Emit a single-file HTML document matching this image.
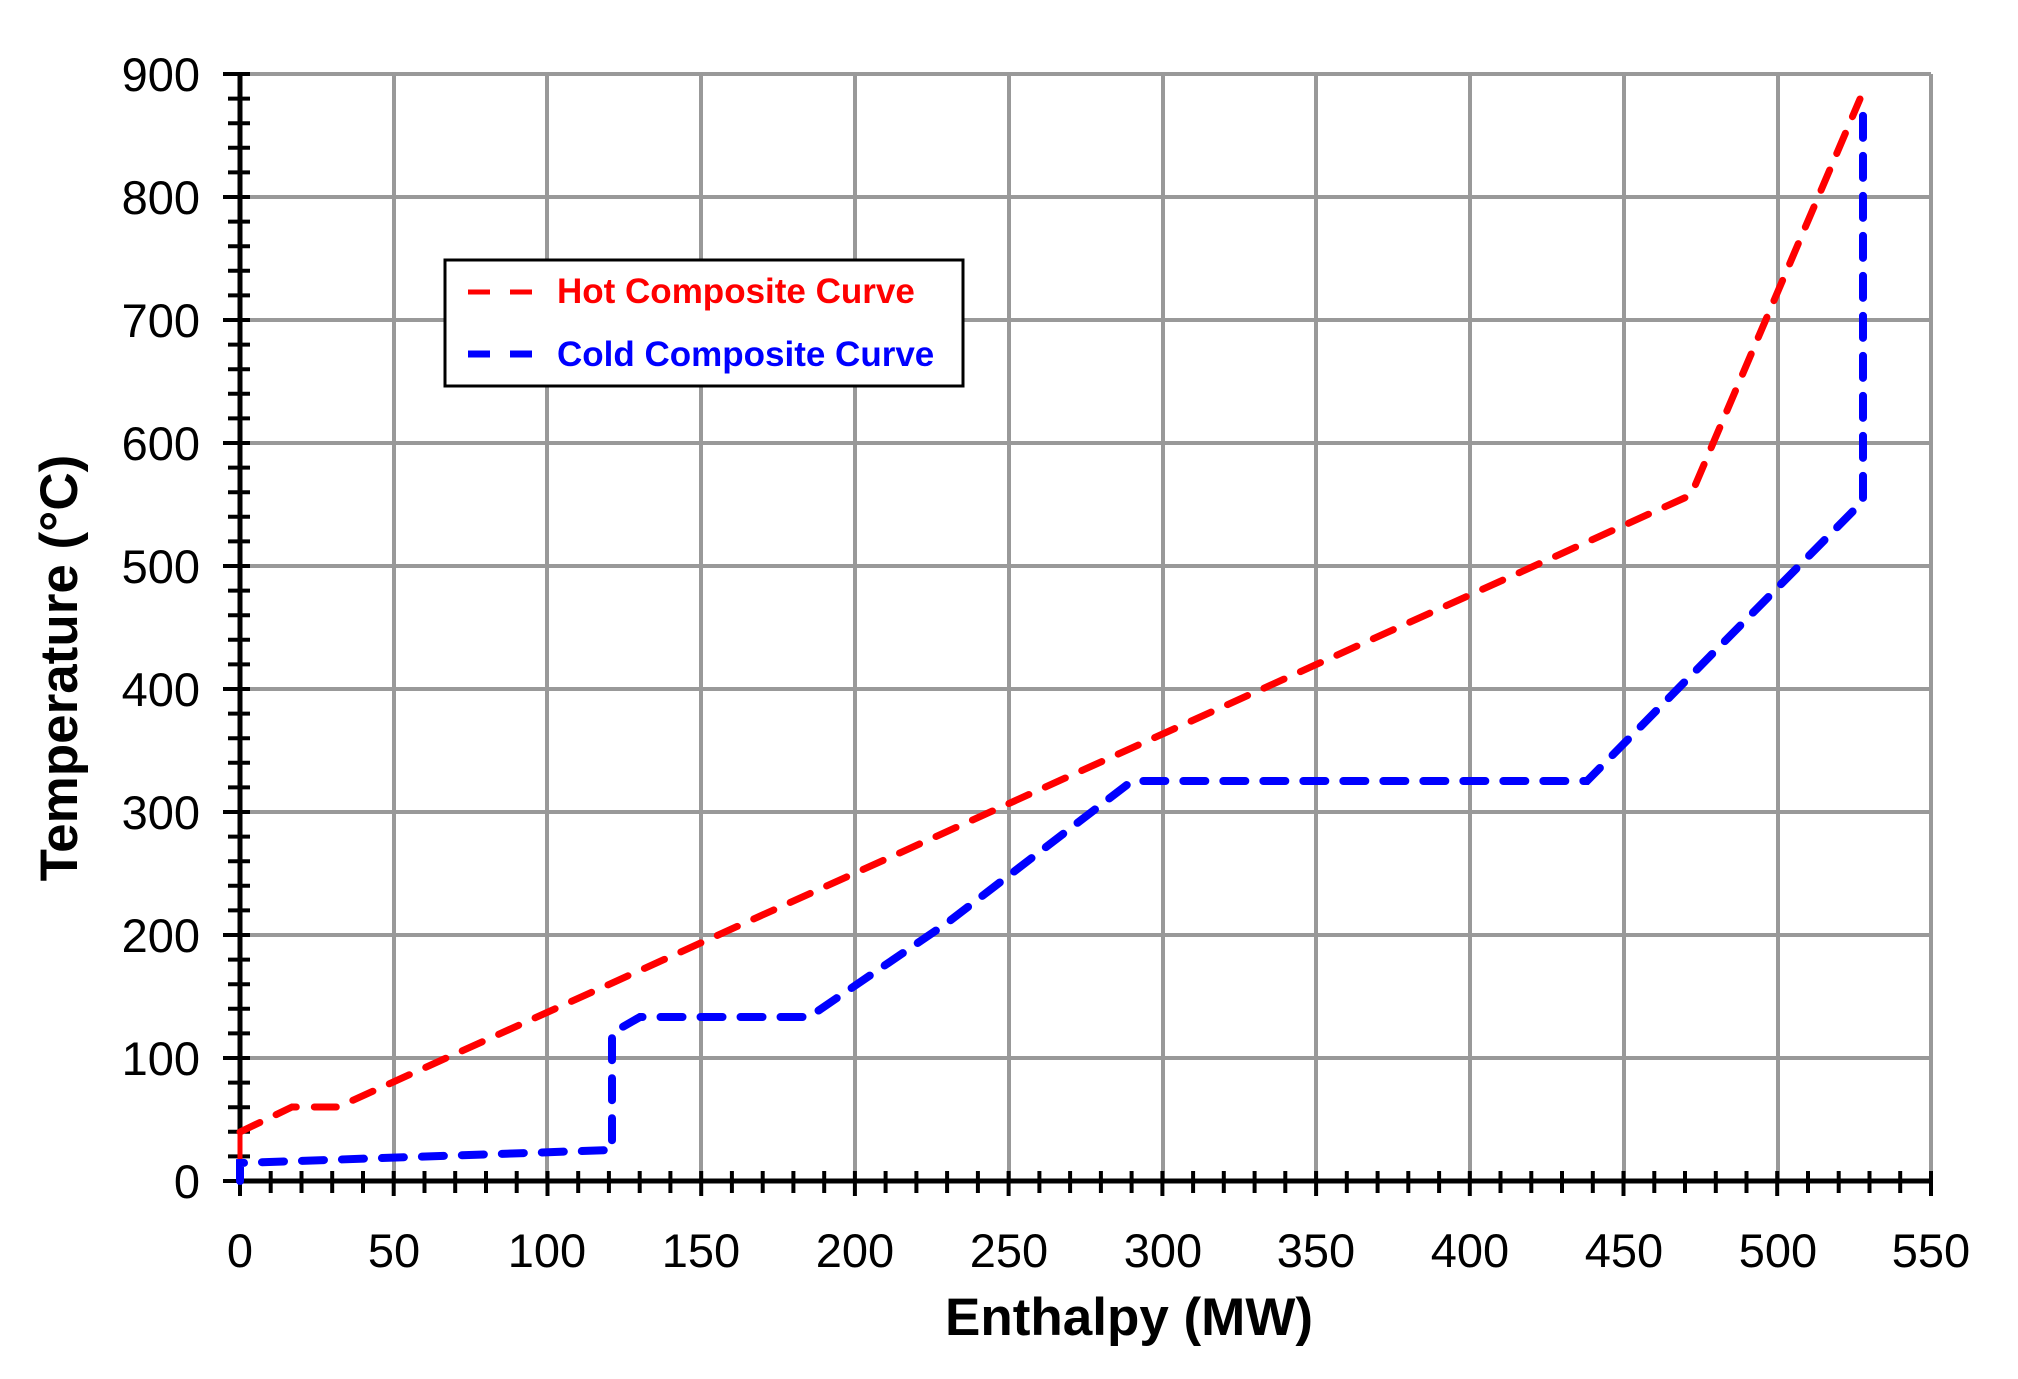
<!DOCTYPE html>
<html><head><meta charset="utf-8"><style>body{margin:0;background:#fff}svg{display:block}</style></head><body>
<svg width="2018" height="1379" xmlns="http://www.w3.org/2000/svg" font-family="Liberation Sans, Arial, sans-serif">
<g stroke="#999" stroke-width="4">
<line x1="240" y1="74" x2="1931" y2="74"/><line x1="240" y1="197" x2="1931" y2="197"/><line x1="240" y1="320" x2="1931" y2="320"/><line x1="240" y1="443" x2="1931" y2="443"/><line x1="240" y1="566" x2="1931" y2="566"/><line x1="240" y1="689" x2="1931" y2="689"/><line x1="240" y1="812" x2="1931" y2="812"/><line x1="240" y1="935" x2="1931" y2="935"/><line x1="240" y1="1058" x2="1931" y2="1058"/>
<line x1="394" y1="74" x2="394" y2="1181"/><line x1="547" y1="74" x2="547" y2="1181"/><line x1="701" y1="74" x2="701" y2="1181"/><line x1="855" y1="74" x2="855" y2="1181"/><line x1="1009" y1="74" x2="1009" y2="1181"/><line x1="1163" y1="74" x2="1163" y2="1181"/><line x1="1316" y1="74" x2="1316" y2="1181"/><line x1="1470" y1="74" x2="1470" y2="1181"/><line x1="1624" y1="74" x2="1624" y2="1181"/><line x1="1778" y1="74" x2="1778" y2="1181"/><line x1="1931" y1="74" x2="1931" y2="1181"/>
</g>
<g stroke="#000" stroke-width="4">
<line x1="223" y1="74" x2="250" y2="74"/><line x1="228" y1="98.6" x2="250" y2="98.6"/><line x1="228" y1="123.2" x2="250" y2="123.2"/><line x1="228" y1="147.8" x2="250" y2="147.8"/><line x1="228" y1="172.4" x2="250" y2="172.4"/>
<line x1="223" y1="197" x2="250" y2="197"/><line x1="228" y1="221.6" x2="250" y2="221.6"/><line x1="228" y1="246.2" x2="250" y2="246.2"/><line x1="228" y1="270.8" x2="250" y2="270.8"/><line x1="228" y1="295.4" x2="250" y2="295.4"/>
<line x1="223" y1="320" x2="250" y2="320"/><line x1="228" y1="344.6" x2="250" y2="344.6"/><line x1="228" y1="369.2" x2="250" y2="369.2"/><line x1="228" y1="393.8" x2="250" y2="393.8"/><line x1="228" y1="418.4" x2="250" y2="418.4"/>
<line x1="223" y1="443" x2="250" y2="443"/><line x1="228" y1="467.6" x2="250" y2="467.6"/><line x1="228" y1="492.2" x2="250" y2="492.2"/><line x1="228" y1="516.8" x2="250" y2="516.8"/><line x1="228" y1="541.4" x2="250" y2="541.4"/>
<line x1="223" y1="566" x2="250" y2="566"/><line x1="228" y1="590.6" x2="250" y2="590.6"/><line x1="228" y1="615.2" x2="250" y2="615.2"/><line x1="228" y1="639.8" x2="250" y2="639.8"/><line x1="228" y1="664.4" x2="250" y2="664.4"/>
<line x1="223" y1="689" x2="250" y2="689"/><line x1="228" y1="713.6" x2="250" y2="713.6"/><line x1="228" y1="738.2" x2="250" y2="738.2"/><line x1="228" y1="762.8" x2="250" y2="762.8"/><line x1="228" y1="787.4" x2="250" y2="787.4"/>
<line x1="223" y1="812" x2="250" y2="812"/><line x1="228" y1="836.6" x2="250" y2="836.6"/><line x1="228" y1="861.2" x2="250" y2="861.2"/><line x1="228" y1="885.8" x2="250" y2="885.8"/><line x1="228" y1="910.4" x2="250" y2="910.4"/>
<line x1="223" y1="935" x2="250" y2="935"/><line x1="228" y1="959.6" x2="250" y2="959.6"/><line x1="228" y1="984.2" x2="250" y2="984.2"/><line x1="228" y1="1008.8" x2="250" y2="1008.8"/><line x1="228" y1="1033.4" x2="250" y2="1033.4"/>
<line x1="223" y1="1058" x2="250" y2="1058"/><line x1="228" y1="1082.6" x2="250" y2="1082.6"/><line x1="228" y1="1107.2" x2="250" y2="1107.2"/><line x1="228" y1="1131.8" x2="250" y2="1131.8"/><line x1="228" y1="1156.4" x2="250" y2="1156.4"/>
<line x1="223" y1="1181" x2="250" y2="1181"/>
<line x1="240.0" y1="1171" x2="240.0" y2="1196"/><line x1="270.7" y1="1171" x2="270.7" y2="1193"/><line x1="301.5" y1="1171" x2="301.5" y2="1193"/><line x1="332.2" y1="1171" x2="332.2" y2="1193"/><line x1="363.0" y1="1171" x2="363.0" y2="1193"/><line x1="393.7" y1="1171" x2="393.7" y2="1196"/><line x1="424.5" y1="1171" x2="424.5" y2="1193"/><line x1="455.2" y1="1171" x2="455.2" y2="1193"/><line x1="486.0" y1="1171" x2="486.0" y2="1193"/><line x1="516.7" y1="1171" x2="516.7" y2="1193"/><line x1="547.5" y1="1171" x2="547.5" y2="1196"/><line x1="578.2" y1="1171" x2="578.2" y2="1193"/><line x1="608.9" y1="1171" x2="608.9" y2="1193"/><line x1="639.7" y1="1171" x2="639.7" y2="1193"/><line x1="670.4" y1="1171" x2="670.4" y2="1193"/><line x1="701.2" y1="1171" x2="701.2" y2="1196"/><line x1="731.9" y1="1171" x2="731.9" y2="1193"/><line x1="762.7" y1="1171" x2="762.7" y2="1193"/><line x1="793.4" y1="1171" x2="793.4" y2="1193"/><line x1="824.2" y1="1171" x2="824.2" y2="1193"/><line x1="854.9" y1="1171" x2="854.9" y2="1196"/><line x1="885.6" y1="1171" x2="885.6" y2="1193"/><line x1="916.4" y1="1171" x2="916.4" y2="1193"/><line x1="947.1" y1="1171" x2="947.1" y2="1193"/><line x1="977.9" y1="1171" x2="977.9" y2="1193"/><line x1="1008.6" y1="1171" x2="1008.6" y2="1196"/><line x1="1039.4" y1="1171" x2="1039.4" y2="1193"/><line x1="1070.1" y1="1171" x2="1070.1" y2="1193"/><line x1="1100.9" y1="1171" x2="1100.9" y2="1193"/><line x1="1131.6" y1="1171" x2="1131.6" y2="1193"/><line x1="1162.4" y1="1171" x2="1162.4" y2="1196"/><line x1="1193.1" y1="1171" x2="1193.1" y2="1193"/><line x1="1223.8" y1="1171" x2="1223.8" y2="1193"/><line x1="1254.6" y1="1171" x2="1254.6" y2="1193"/><line x1="1285.3" y1="1171" x2="1285.3" y2="1193"/><line x1="1316.1" y1="1171" x2="1316.1" y2="1196"/><line x1="1346.8" y1="1171" x2="1346.8" y2="1193"/><line x1="1377.6" y1="1171" x2="1377.6" y2="1193"/><line x1="1408.3" y1="1171" x2="1408.3" y2="1193"/><line x1="1439.1" y1="1171" x2="1439.1" y2="1193"/><line x1="1469.8" y1="1171" x2="1469.8" y2="1196"/><line x1="1500.5" y1="1171" x2="1500.5" y2="1193"/><line x1="1531.3" y1="1171" x2="1531.3" y2="1193"/><line x1="1562.0" y1="1171" x2="1562.0" y2="1193"/><line x1="1592.8" y1="1171" x2="1592.8" y2="1193"/><line x1="1623.5" y1="1171" x2="1623.5" y2="1196"/><line x1="1654.3" y1="1171" x2="1654.3" y2="1193"/><line x1="1685.0" y1="1171" x2="1685.0" y2="1193"/><line x1="1715.8" y1="1171" x2="1715.8" y2="1193"/><line x1="1746.5" y1="1171" x2="1746.5" y2="1193"/><line x1="1777.2" y1="1171" x2="1777.2" y2="1196"/><line x1="1808.0" y1="1171" x2="1808.0" y2="1193"/><line x1="1838.7" y1="1171" x2="1838.7" y2="1193"/><line x1="1869.5" y1="1171" x2="1869.5" y2="1193"/><line x1="1900.2" y1="1171" x2="1900.2" y2="1193"/><line x1="1931.0" y1="1171" x2="1931.0" y2="1196"/>
</g>
<line x1="240" y1="72" x2="240" y2="1183" stroke="#000" stroke-width="5"/>
<line x1="238" y1="1181" x2="1933" y2="1181" stroke="#000" stroke-width="5"/>
<g font-size="47" fill="#000" text-anchor="end">
<text x="200" y="91">900</text><text x="200" y="214">800</text><text x="200" y="337">700</text><text x="200" y="460">600</text><text x="200" y="583">500</text><text x="200" y="706">400</text><text x="200" y="829">300</text><text x="200" y="952">200</text><text x="200" y="1075">100</text><text x="200" y="1198">0</text>
</g>
<g font-size="47" fill="#000" text-anchor="middle">
<text x="240" y="1267">0</text><text x="394" y="1267">50</text><text x="547" y="1267">100</text><text x="701" y="1267">150</text><text x="855" y="1267">200</text><text x="1009" y="1267">250</text><text x="1163" y="1267">300</text><text x="1316" y="1267">350</text><text x="1470" y="1267">400</text><text x="1624" y="1267">450</text><text x="1778" y="1267">500</text><text x="1931" y="1267">550</text>
</g>
<text x="1129" y="1335" font-size="53" font-weight="bold" text-anchor="middle">Enthalpy (MW)</text>
<text transform="translate(77,668) rotate(-90)" font-size="53" font-weight="bold" text-anchor="middle">Temperature (°C)</text>
<line x1="240" y1="1181" x2="240" y2="1132" stroke="#f00" stroke-width="5"/>
<polyline fill="none" stroke="#f00" stroke-width="7" stroke-dasharray="22,18" stroke-linecap="round" points="240,1132 292,1107 338,1107 1691,495 1860,99"/>
<polyline fill="none" stroke="#00f" stroke-width="8" stroke-dasharray="22,18" stroke-linecap="round" points="240,1181 240,1163 612,1150 612,1033 640,1017 809,1017 947,923 1132,781 1587,781 1863,501 1863,99"/>
<rect x="445" y="260" width="518" height="126" fill="#fff" stroke="#000" stroke-width="3"/>
<line x1="468" y1="292" x2="532" y2="292" stroke="#f00" stroke-width="5" stroke-dasharray="22,20"/>
<line x1="468" y1="354" x2="532" y2="354" stroke="#00f" stroke-width="7" stroke-dasharray="22,20"/>
<text x="557" y="303" font-size="35" font-weight="bold" fill="#f00">Hot Composite Curve</text>
<text x="557" y="366" font-size="35" font-weight="bold" fill="#00f">Cold Composite Curve</text>
</svg>
</body></html>
